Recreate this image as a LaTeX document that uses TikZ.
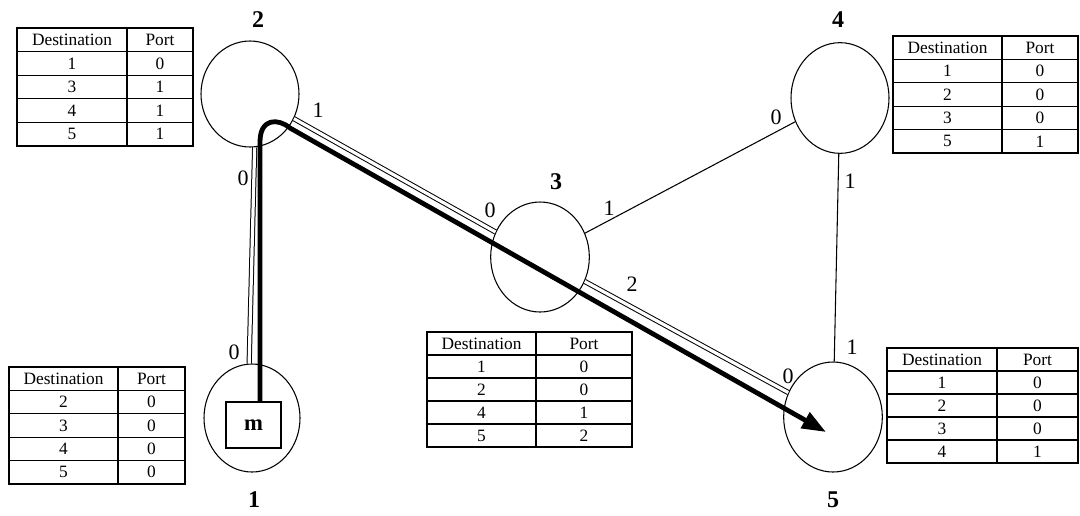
\documentclass[tikz,border=0pt]{standalone}
\usepackage{fontspec}
\setmainfont{Liberation Serif}
\usetikzlibrary{shapes.geometric,arrows.meta,calc}
\tikzset{
 router/.style={ellipse, draw, line width=0.8pt, inner sep=0pt},
 nlabel/.style={font=\fontsize{18}{20}\selectfont\bfseries, inner sep=0pt},
 plabel/.style={font=\fontsize{16.5}{18}\selectfont, inner sep=0pt},
 tbl/.style={line width=0.9pt},
 ttext/.style={font=\fontsize{13}{15}\selectfont, inner sep=0pt},
 linkdbl/.style={double, double distance=2.4pt, line width=0.75pt},
 wire/.style={line width=0.8pt},
 routepath/.style={line width=3.6pt, line join=round, -{Triangle[length=18pt,width=13pt]}},
}
\newcommand\rtable[7]{%
 \pgfmathsetmacro\rth{(#5-#2)/5}%
 \draw[tbl] (#1,#2) rectangle (#4,#5);
 \draw[tbl] (#3,#2) -- (#3,#5);
 \node[ttext] (#7-hd) at ({(#1+#3)/2},{#2+\rth/2}) {Destination};
 \node[ttext] (#7-hp) at ({(#3+#4)/2},{#2+\rth/2}) {Port};
 \foreach \d/\p [count=\i] in {#6} {
   \draw[tbl] (#1,{#2+\i*\rth}) -- (#4,{#2+\i*\rth});
   \node[ttext] (#7-\i-d) at ({(#1+#3)/2},{#2+(\i+0.5)*\rth}) {\d};
   \node[ttext] (#7-\i-p) at ({(#3+#4)/2},{#2+(\i+0.5)*\rth}) {\p};
 }%
}
\begin{document}
\begin{tikzpicture}[x=0.75pt,y=-0.75pt]
\useasboundingbox (0,0) rectangle (1080,515);
% routers
\node[router, minimum width=73.5pt, minimum height=79.5pt] (n2) at (250,94) {};
\node[router, minimum width=72pt, minimum height=81pt] (n1) at (252,418) {};
\node[router, minimum width=74pt, minimum height=82.5pt] (n3) at (540,257) {};
\node[router, minimum width=73.5pt, minimum height=83pt] (n4) at (840,98) {};
\node[router, minimum width=74pt, minimum height=82.5pt] (n5) at (833,417) {};
% router labels
\node[nlabel] (l2) at (258,20) {2};
\node[nlabel] (l1) at (254,500) {1};
\node[nlabel] (l3) at (556,182) {3};
\node[nlabel] (l4) at (838,20) {4};
\node[nlabel] (l5) at (833,500) {5};
% message box
\node[draw, line width=1.5pt, minimum width=41pt, minimum height=34.5pt, inner sep=0pt,
      font=\fontsize{17}{19}\selectfont\bfseries] (m) at (253.5,425) {m};
% links
\draw[linkdbl] (n2.-85) -- (n1.93);
\draw[linkdbl] (n2) -- (n3);
\draw[linkdbl] (n3) -- (n5);
\draw[wire] (n3) -- (n4);
\draw[wire] (n4) -- (n5);
% route
\coordinate (up) at (260,142);
\coordinate (turn) at (290,128);
\coordinate (tip) at (826,432);
\draw[routepath] ($(m.north)+(6.5,0)$) -- (up) .. controls (260,118) and (278,118) .. (turn) -- (tip);
% port labels
\node[plabel] (p21) at (318,110) {1};
\node[plabel] (p20) at (243,178) {0};
\node[plabel] (p10) at (234,352) {0};
\node[plabel] (p30) at (490,210) {0};
\node[plabel] (p31) at (609,208) {1};
\node[plabel] (p32) at (632,284) {2};
\node[plabel] (p40) at (776,117) {0};
\node[plabel] (p41) at (850,181) {1};
\node[plabel] (p51) at (852,347) {1};
\node[plabel] (p50) at (788,376) {0};
% tables
\rtable{17}{28}{127}{193}{146}{1/0,3/1,4/1,5/1}{t2}
\rtable{893}{36}{1002}{1078}{153}{1/0,2/0,3/0,5/1}{t4}
\rtable{887}{348}{997}{1078}{463}{1/0,2/0,3/0,4/1}{t5}
\rtable{427}{332}{536}{632}{447}{1/0,2/0,4/1,5/2}{t3}
\rtable{9}{367}{118}{185}{484}{2/0,3/0,4/0,5/0}{t1}
\end{tikzpicture}
\end{document}
